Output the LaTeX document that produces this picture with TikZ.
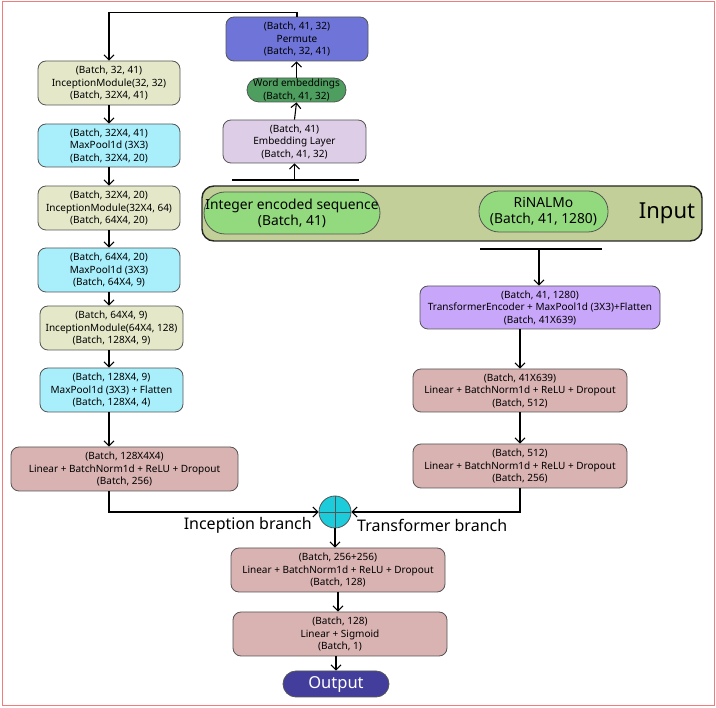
\documentclass[tikz,border=0pt]{standalone}
\usepackage{fontspec}
\setmainfont{Noto Sans}
\usetikzlibrary{calc,arrows.meta}
\definecolor{frame}{HTML}{F07C7C}
\definecolor{cpermute}{HTML}{6E74D8}
\definecolor{cword}{HTML}{4E9E5F}
\definecolor{cemb}{HTML}{DDCDE6}
\definecolor{cincep}{HTML}{E4E8C8}
\definecolor{cpool}{HTML}{A8EEFB}
\definecolor{clin}{HTML}{D9B2B2}
\definecolor{cinput}{HTML}{C2CF98}
\definecolor{cgreen}{HTML}{93DA7E}
\definecolor{ctrans}{HTML}{C8A6F9}
\definecolor{cplus}{HTML}{1CCCDB}
\definecolor{cout}{HTML}{433E9B}
\definecolor{cborder}{HTML}{555555}
\tikzset{
  box/.style={draw=cborder, line width=0.8pt, rounded corners=8pt, align=center,
    inner sep=0pt, font=\fontsize{10}{12.5}\selectfont},
  pill/.style={draw=cborder, line width=0.8pt, rounded corners=12pt, align=center,
    inner sep=0pt},
  conn/.style={line width=1.1pt, black},
  arr/.style={conn, -{Straight Barb[length=5pt,width=10pt,line width=1.1pt]}},
  biglabel/.style={font=\fontsize{16}{18}\selectfont, inner sep=0pt},
}
\begin{document}
\begin{tikzpicture}[x=1pt,y=-1pt]
\useasboundingbox (0,0) rectangle (716,708);
\draw[frame, line width=1pt] (2,2) rectangle (714,706);

% Embedding branch
\node[box, fill=cpermute, minimum width=142pt, minimum height=44pt] (permute) at (297,39)
  {(Batch, 41, 32)\\Permute\\(Batch, 32, 41)};
\node[pill, fill=cword, minimum width=99pt, minimum height=24pt, font=\fontsize{10}{12.5}\selectfont] (wordemb) at (296.5,90)
  {Word embeddings\\(Batch, 41, 32)};
\node[box, fill=cemb, minimum width=143pt, minimum height=43pt] (emblayer) at (294.5,141.5)
  {(Batch, 41)\\Embedding Layer\\(Batch, 41, 32)};

% Inception branch
\node[box, fill=cincep, minimum width=142pt, minimum height=44pt] (incep1) at (109,83)
  {(Batch, 32, 41)\\InceptionModule(32, 32)\\(Batch, 32X4, 41)};
\node[box, fill=cpool, minimum width=142pt, minimum height=43pt] (mp1) at (109,145.5)
  {(Batch, 32X4, 41)\\MaxPool1d (3X3)\\(Batch, 32X4, 20)};
\node[box, fill=cincep, minimum width=142pt, minimum height=44pt] (incep2) at (109,208)
  {(Batch, 32X4, 20)\\InceptionModule(32X4, 64)\\(Batch, 64X4, 20)};
\node[box, fill=cpool, minimum width=142pt, minimum height=44pt] (mp2) at (109,270)
  {(Batch, 64X4, 20)\\MaxPool1d (3X3)\\(Batch, 64X4, 9)};
\node[box, fill=cincep, minimum width=143pt, minimum height=44pt] (incep3) at (111.5,328)
  {(Batch, 64X4, 9)\\InceptionModule(64X4, 128)\\(Batch, 128X4, 9)};
\node[box, fill=cpool, minimum width=143pt, minimum height=44pt] (mp3) at (111.5,390)
  {(Batch, 128X4, 9)\\MaxPool1d (3X3) + Flatten\\(Batch, 128X4, 4)};
\node[box, fill=clin, minimum width=227pt, minimum height=44pt] (linL) at (124.5,469)
  {(Batch, 128X4X4)\\Linear + BatchNorm1d + ReLU + Dropout\\(Batch, 256)};

% Input
\node[draw=black!85, line width=1.4pt, rounded corners=12pt, fill=cinput,
  minimum width=500pt, minimum height=55pt, inner sep=0pt] (input) at (452,213.5) {};
\node[pill, fill=cgreen, rounded corners=21pt, minimum width=176pt, minimum height=42pt,
  font=\fontsize{13.8}{16}\selectfont] (intenc) at (292,213)
  {Integer encoded sequence\\(Batch, 41)};
\node[pill, fill=cgreen, rounded corners=20pt, minimum width=129pt, minimum height=41pt,
  font=\fontsize{13.8}{16}\selectfont] (rinalmo) at (543.5,211.5)
  {RiNALMo\\(Batch, 41, 1280)};
\node[font=\fontsize{22}{24}\selectfont, inner sep=0pt] (inputlabel) at (667,213) {Input};

\coordinate (topL) at (232,180);
\coordinate (topR) at (359,180);
\coordinate (topM) at (294.5,180);
\coordinate (botL) at (480,249);
\coordinate (botR) at (602,249);
\coordinate (botM) at (539,249);

% Transformer branch
\node[box, fill=ctrans, minimum width=240pt, minimum height=43pt] (trans) at (540,307.5)
  {(Batch, 41, 1280)\\TransformerEncoder + MaxPool1d (3X3)+Flatten\\(Batch, 41X639)};
\node[box, fill=clin, minimum width=214pt, minimum height=43pt] (linR1) at (520,390.5)
  {(Batch, 41X639)\\Linear + BatchNorm1d + ReLU + Dropout\\(Batch, 512)};
\node[box, fill=clin, minimum width=214pt, minimum height=44pt] (linR2) at (520,466)
  {(Batch, 512)\\Linear + BatchNorm1d + ReLU + Dropout\\(Batch, 256)};

% Merge
\node[circle, draw=cborder, line width=0.8pt, fill=cplus, minimum size=32pt, inner sep=0pt] (plus) at (335,512) {};
\draw[line width=0.8pt, cborder] (plus.north) -- (plus.south) (plus.west) -- (plus.east);
\node[biglabel, anchor=east] (inclabel) at (312,525) {Inception branch};
\node[biglabel, anchor=west] (trlabel) at (357,525) {Transformer branch};

\node[box, fill=clin, minimum width=214pt, minimum height=44pt] (linM1) at (338,570)
  {(Batch, 256+256)\\Linear + BatchNorm1d + ReLU + Dropout\\(Batch, 128)};
\node[box, fill=clin, minimum width=214pt, minimum height=44pt] (linM2) at (340,634)
  {(Batch, 128)\\Linear + Sigmoid\\(Batch, 1)};
\node[draw=cborder, line width=0.8pt, fill=cout, rounded corners=13pt, minimum width=106pt,
  minimum height=26pt, inner sep=0pt, text=white, font=\fontsize{16.5}{18}\selectfont] (output) at (336,684) {Output};

% Connectors
\draw[arr] (permute.north) -- ++(0,-4) -| (incep1.north);
\draw[arr] (incep1.south) -- (incep1.south |- mp1.north);
\draw[arr] (mp1.south) -- (mp1.south |- incep2.north);
\draw[arr] (incep2.south) -- (incep2.south |- mp2.north);
\draw[arr] (mp2.south) -- (mp2.south |- incep3.north);
\draw[arr] (mp2.south |- incep3.south) -- (mp2.south |- mp3.north);
\draw[arr] (mp2.south |- mp3.south) -- (mp2.south |- linL.north);

\draw[conn] (topL) -- (topR);
\draw[arr] (topM) -- (emblayer.south);
\draw[arr] (emblayer.north) -- (wordemb.south);
\draw[arr] (wordemb.north) -- (wordemb.north |- permute.south);

\draw[conn] (botL) -- (botR);
\draw[arr] (botM) -- (botM |- trans.north);
\draw[arr] (linR1.south |- trans.south) -- (linR1.north);
\draw[arr] (linR1.south) -- (linR2.north);

\draw[arr] (mp2.south |- linL.south) |- (plus.west);
\draw[arr] (linR2.south) |- (plus.east);
\draw[arr] (plus.south) -- (plus.south |- linM1.north);
\draw[arr] (linM1.south) -- (linM1.south |- linM2.north);
\draw[arr] (output.north |- linM2.south) -- (output.north);
\end{tikzpicture}
\end{document}
